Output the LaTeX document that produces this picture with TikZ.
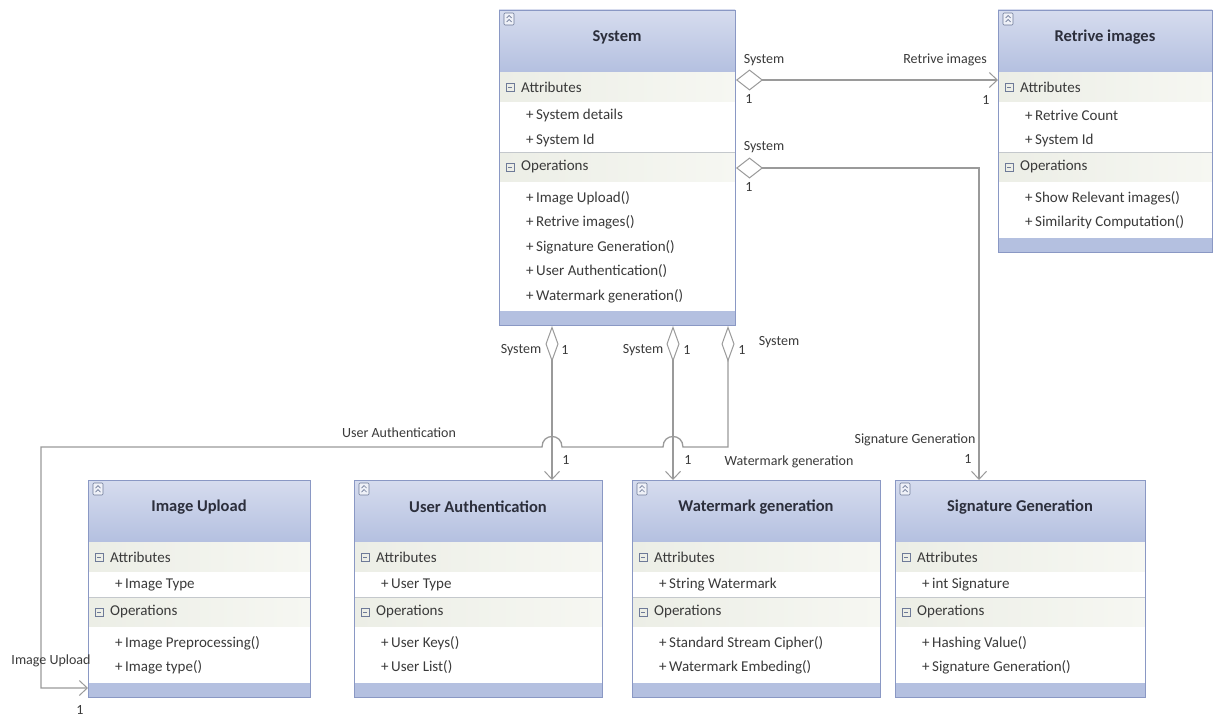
\documentclass[tikz,border=0pt]{standalone}
\usepackage{fontspec}
\setmainfont{Carlito}
\usetikzlibrary{arrows.meta,calc}
\definecolor{hdtop}{HTML}{D6DCEE}
\definecolor{hdbot}{HTML}{B4C0E0}
\definecolor{bandl}{HTML}{ECEEE6}
\definecolor{bandr}{HTML}{F6F7F2}
\definecolor{footc}{HTML}{B4C0E0}
\definecolor{framec}{HTML}{8A98C4}
\definecolor{sepc}{HTML}{C4C8CC}
\definecolor{txt}{HTML}{3A3A3A}
\definecolor{titc}{HTML}{2C2F3C}
\definecolor{connc}{HTML}{9A9A9A}
\definecolor{iconc}{HTML}{6E7A98}
\tikzset{
  classframe/.style={draw=framec, line width=1pt, inner sep=0pt, anchor=north west},
  classtitle/.style={font=\fontsize{16.5}{18}\selectfont\bfseries, text=titc},
  bandlabel/.style={font=\fontsize{15}{17}\selectfont, text=txt, anchor=west, inner sep=0pt},
  member/.style={font=\fontsize{15}{17}\selectfont, text=txt, anchor=west, inner sep=0pt},
  lbl/.style={font=\fontsize{14}{16}\selectfont, text=txt, inner sep=0pt},
  conn/.style={draw=connc, line width=1.3pt},
  hdiam/.style={{Diamond[open,length=27pt,width=21pt,line width=1pt]}-{Straight Barb[length=8pt,width=15pt,line width=1pt]}},
  vdiam/.style={{Diamond[open,length=36pt,width=13pt,line width=1pt]}-{Straight Barb[length=8pt,width=15pt,line width=1pt]}},
}
\newcommand\minusicon[2]{%
  \draw[iconc, line width=0.6pt] (#1-4,#2-4) rectangle (#1+4,#2+4);
  \draw[iconc, line width=0.8pt] (#1-2,#2) -- (#1+2,#2);}
\newcommand\umlclass[9]{%
\begin{scope}[shift={(#2,#3)}]
\pgfmathsetmacro\sepy{92+25*#6}
\pgfmathsetmacro\footy{\sepy+46+24.5*(#8-1)+15}
\pgfmathsetmacro\boty{\footy+14}
\shade[top color=hdtop,bottom color=hdbot] (0,0) rectangle (#4,62);
\shade[left color=bandl,right color=bandr] (0,62) rectangle (#4,92);
\fill[white] (0,92) rectangle (#4,\sepy);
\shade[left color=bandl,right color=bandr] (0,\sepy) rectangle (#4,\sepy+30);
\fill[white] (0,\sepy+30) rectangle (#4,\footy);
\fill[footc] (0,\footy) rectangle (#4,\boty);
\draw[sepc, line width=0.8pt] (0,\sepy) -- (#4,\sepy);
\draw[iconc, line width=0.6pt, rounded corners=1pt, fill=white!60!hdtop] (5,3) rectangle (15,15);
\draw[iconc, line width=0.7pt] (7.5,8) -- (10,5.5) -- (12.5,8) (7.5,12) -- (10,9.5) -- (12.5,12);
\node[classtitle] at (#4/2,27) {#5};
\minusicon{11}{77}
\node[bandlabel] at (22,77) {Attributes};
\foreach \t [count=\i] in {#7} {\node[member] at (27,{105+25*(\i-1)}) {+\,\t};}
\minusicon{11}{\sepy+15}
\node[bandlabel] at (22,\sepy+15) {Operations};
\foreach \t [count=\i] in {#9} {\node[member] at (27,{\sepy+46+24.5*(\i-1)}) {+\,\t};}
\node[classframe, minimum width=#4pt, minimum height=\boty pt] (#1) at (0,0) {};
\end{scope}}
\begin{document}
\begin{tikzpicture}[x=1pt,y=-1pt]
\useasboundingbox[fill=white] (0,0) rectangle (1214,717);

\umlclass{sys}{499}{10}{236}{System}{2}{System details,System Id}{5}{Image Upload(),Retrive images(),Signature Generation(),User Authentication(),Watermark generation()}
\umlclass{ret}{998}{10}{214}{Retrive images}{2}{Retrive Count,System Id}{2}{Show Relevant images(),Similarity Computation()}
\umlclass{iu}{88}{480}{222}{Image Upload}{1}{Image Type}{2}{Image Preprocessing(),Image type()}
\umlclass{ua}{354}{480}{248}{User Authentication}{1}{User Type}{2}{User Keys(),User List()}
\umlclass{wg}{632}{480}{248}{Watermark generation}{1}{String Watermark}{2}{Standard Stream Cipher(),Watermark Embeding()}
\umlclass{sg}{895}{480}{250}{Signature Generation}{1}{int Signature}{2}{Hashing Value(),Signature Generation()}

% helper coordinates
\coordinate (y80) at (0,80);
\coordinate (y168) at (0,168);
\coordinate (y688) at (0,688);
\coordinate (x552) at (552,0);
\coordinate (x673) at (673,0);
\coordinate (x728) at (728,0);
\coordinate (x979) at (979,0);

% System -> Retrive images
\draw[conn, hdiam] (sys.east |- y80) -- (ret.west |- y80);
% System -> Signature Generation
\draw[conn, hdiam] (sys.east |- y168) -- (x979 |- y168) -- (x979 |- sg.north);
% System -> User Authentication
\draw[conn, vdiam] (sys.south -| x552) -- (ua.north -| x552);
% System -> Watermark generation
\draw[conn, vdiam] (sys.south -| x673) -- (wg.north -| x673);
% System -> Image Upload (with hops)
\draw[conn, vdiam] (sys.south -| x728) -- (728,447) -- (683,447)
  .. controls (683,433) and (663,433) .. (663,447) -- (562,447)
  .. controls (562,433) and (542,433) .. (542,447) -- (41,447) -- (41,688) -- (iu.west |- y688);

% labels
\node[lbl] at (764,60) {System};
\node[lbl] at (749,99) {1};
\node[lbl] at (945,60) {Retrive images};
\node[lbl] at (986,100) {1};
\node[lbl] at (764,147) {System};
\node[lbl] at (749,187) {1};
\node[lbl] at (521,350) {System};
\node[lbl] at (565,350) {1};
\node[lbl] at (643,350) {System};
\node[lbl] at (687,350) {1};
\node[lbl] at (742,350) {1};
\node[lbl] at (779,342) {System};
\node[lbl] at (399,433) {User Authentication};
\node[lbl] at (566,460) {1};
\node[lbl] at (688,460) {1};
\node[lbl] at (789,462) {Watermark generation};
\node[lbl] at (915,440) {Signature Generation};
\node[lbl] at (968,459) {1};
\node[lbl] at (51,661) {Image Upload};
\node[lbl] at (80,710) {1};
\end{tikzpicture}
\end{document}
